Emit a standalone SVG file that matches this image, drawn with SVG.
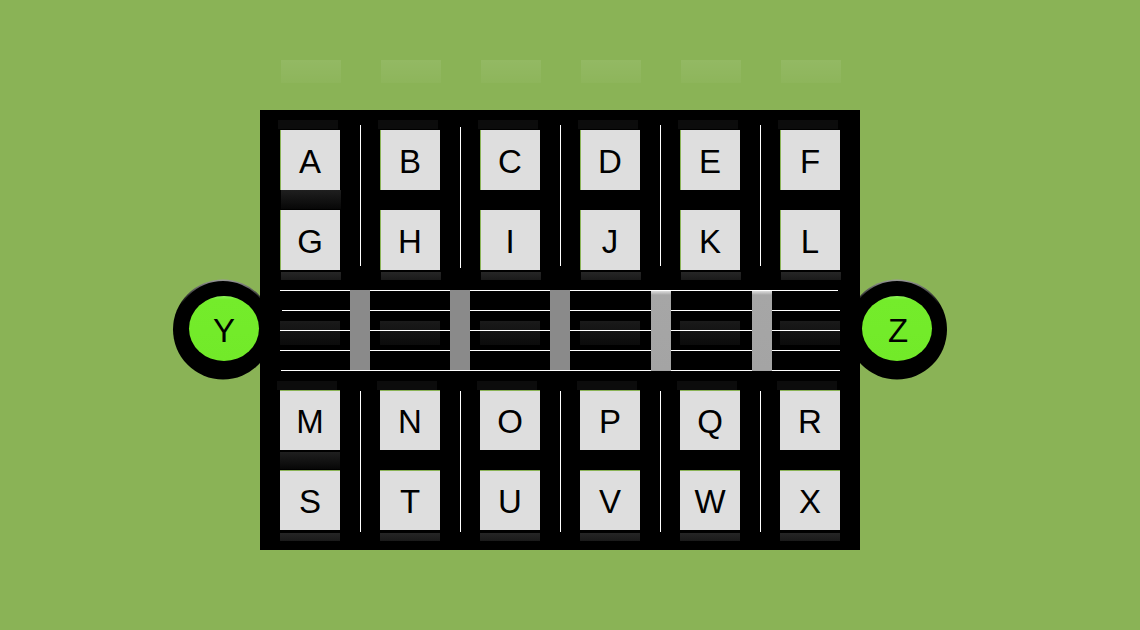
<svg xmlns="http://www.w3.org/2000/svg" width="1140" height="630" viewBox="0 0 1140 630">
<defs>
<linearGradient id="ghostTop" x1="0" y1="0" x2="0" y2="1"><stop offset="0" stop-color="#ffffff" stop-opacity="0.08"/><stop offset="1" stop-color="#ffffff" stop-opacity="0.03"/></linearGradient>
<linearGradient id="shadowBar" x1="0" y1="0" x2="0" y2="1"><stop offset="0" stop-color="#1f1f1f"/><stop offset="1" stop-color="#070707"/></linearGradient>
<linearGradient id="midGhost" x1="0" y1="0" x2="0" y2="1"><stop offset="0" stop-color="#1a1a1a"/><stop offset="1" stop-color="#0b0b0b"/></linearGradient>
<linearGradient id="lowBar" x1="0" y1="0" x2="0" y2="1"><stop offset="0" stop-color="#262626"/><stop offset="1" stop-color="#1a1a1a"/></linearGradient>
<linearGradient id="ring" x1="0" y1="0" x2="0" y2="1"><stop offset="0" stop-color="#9a9a9a"/><stop offset="0.25" stop-color="#000000"/><stop offset="1" stop-color="#000000"/></linearGradient>
<linearGradient id="hiBar" x1="0" y1="0" x2="0" y2="1"><stop offset="0" stop-color="#dcdcdc"/><stop offset="0.05" stop-color="#a6a6a6"/><stop offset="1" stop-color="#a4a4a4"/></linearGradient>
<linearGradient id="knob" x1="0" y1="0" x2="0" y2="1"><stop offset="0" stop-color="#8ef55a"/><stop offset="0.06" stop-color="#74ec2b"/><stop offset="1" stop-color="#72ea29"/></linearGradient>
</defs>
<style>
.key{fill:#dedede}
.edge{fill:#8ab356}
.lbl{font-family:"Liberation Sans",Arial,sans-serif;font-size:33px;fill:#000;text-anchor:middle}
.rail{fill:#ffffff}
.bar{fill:#8a8a8a}
.top9{fill:#0c0c0c}
</style>
<rect x="0" y="0" width="1140" height="630" fill="#8ab356"/>
<g id="ghosts-top" fill="url(#ghostTop)">
<rect x="281" y="60" width="60" height="23"/><rect x="381" y="60" width="60" height="23"/><rect x="481" y="60" width="60" height="23"/><rect x="581" y="60" width="60" height="23"/><rect x="681" y="60" width="60" height="23"/><rect x="781" y="60" width="60" height="23"/>
</g>
<g id="Y">
<circle cx="223" cy="329.5" r="50" fill="url(#ring)"/>
<circle cx="223" cy="329.5" r="48.5" fill="#000"/>
<ellipse cx="224" cy="328.5" rx="35" ry="32.5" fill="url(#knob)"/>
<text class="lbl" x="224" y="341.5">Y</text>
</g>
<g id="Z">
<circle cx="897" cy="329.5" r="50" fill="url(#ring)"/>
<circle cx="897" cy="329.5" r="48.5" fill="#000"/>
<ellipse cx="897" cy="328.5" rx="35" ry="32.5" fill="url(#knob)"/>
<text class="lbl" x="898" y="341.5">Z</text>
</g>
<rect id="panel" x="260" y="110" width="600" height="440" fill="#000"/>
<g id="shading">
<g class="top9"><rect x="278" y="120" width="60" height="9"/><rect x="378" y="120" width="60" height="9"/><rect x="478" y="120" width="60" height="9"/><rect x="578" y="120" width="60" height="9"/><rect x="678" y="120" width="60" height="9"/><rect x="778" y="120" width="60" height="9"/></g>
<rect x="281" y="190" width="60" height="19" fill="url(#shadowBar)"/>
<g fill="url(#lowBar)"><rect x="281" y="272" width="60" height="8"/><rect x="381" y="272" width="60" height="8"/><rect x="481" y="272" width="60" height="8"/><rect x="581" y="272" width="60" height="8"/><rect x="681" y="272" width="60" height="8"/><rect x="781" y="272" width="60" height="8"/></g>
<g fill="url(#midGhost)"><rect x="280" y="321" width="60" height="24"/><rect x="380" y="321" width="60" height="24"/><rect x="480" y="321" width="60" height="24"/><rect x="580" y="321" width="60" height="24"/><rect x="680" y="321" width="60" height="24"/><rect x="780" y="321" width="60" height="24"/></g>
<g class="top9"><rect x="277" y="381" width="60" height="9"/><rect x="377" y="381" width="60" height="9"/><rect x="477" y="381" width="60" height="9"/><rect x="577" y="381" width="60" height="9"/><rect x="677" y="381" width="60" height="9"/><rect x="777" y="381" width="60" height="9"/></g>
<rect x="280" y="452" width="60" height="17" fill="url(#shadowBar)"/>
<g fill="url(#lowBar)"><rect x="280" y="533" width="60" height="8"/><rect x="380" y="533" width="60" height="8"/><rect x="480" y="533" width="60" height="8"/><rect x="580" y="533" width="60" height="8"/><rect x="680" y="533" width="60" height="8"/><rect x="780" y="533" width="60" height="8"/></g>
</g>
<g id="connectors">
<g class="rail">
<rect x="360" y="125" width="1" height="141"/><rect x="460" y="127" width="1" height="141"/><rect x="560" y="125" width="1" height="141"/><rect x="660" y="125" width="1" height="141"/><rect x="760" y="125" width="1" height="141"/>
<rect x="360" y="391" width="1" height="141"/><rect x="460" y="391" width="1" height="141"/><rect x="560" y="391" width="1" height="141"/><rect x="660" y="391" width="1" height="141"/><rect x="760" y="391" width="1" height="141"/>
<rect x="280" y="290" width="558" height="1"/><rect x="282" y="310" width="558" height="1"/><rect x="280" y="330" width="560" height="1"/><rect x="280" y="350" width="560" height="1"/><rect x="281" y="370" width="559" height="1"/>
</g>
<rect class="bar" x="350" y="290" width="20" height="80"/>
<rect class="bar" x="450" y="290" width="20" height="80"/>
<rect class="bar" x="550" y="290" width="20" height="80"/>
<rect x="651" y="291" width="20" height="80" fill="url(#hiBar)"/>
<rect x="752" y="291" width="20" height="80" fill="url(#hiBar)"/>
</g>
<g id="A"><rect class="key" x="280" y="130" width="60" height="60"/><rect class="edge" x="280" y="130" width="1" height="60"/><text class="lbl" x="310" y="172.5">A</text></g>
<g id="B"><rect class="key" x="380" y="130" width="60" height="60"/><rect class="edge" x="380" y="130" width="1" height="60"/><text class="lbl" x="410" y="172.5">B</text></g>
<g id="C"><rect class="key" x="480" y="130" width="60" height="60"/><rect class="edge" x="480" y="130" width="1" height="60"/><text class="lbl" x="510" y="172.5">C</text></g>
<g id="D"><rect class="key" x="580" y="130" width="60" height="60"/><rect class="edge" x="580" y="130" width="1" height="60"/><text class="lbl" x="610" y="172.5">D</text></g>
<g id="E"><rect class="key" x="680" y="130" width="60" height="60"/><rect class="edge" x="680" y="130" width="1" height="60"/><text class="lbl" x="710" y="172.5">E</text></g>
<g id="F"><rect class="key" x="780" y="130" width="60" height="60"/><rect class="edge" x="780" y="130" width="1" height="60"/><text class="lbl" x="810" y="172.5">F</text></g>
<g id="G"><rect class="key" x="280" y="210" width="60" height="60"/><rect class="edge" x="280" y="210" width="1" height="60"/><text class="lbl" x="310" y="252.5">G</text></g>
<g id="H"><rect class="key" x="380" y="210" width="60" height="60"/><rect class="edge" x="380" y="210" width="1" height="60"/><text class="lbl" x="410" y="252.5">H</text></g>
<g id="I"><rect class="key" x="480" y="210" width="60" height="60"/><rect class="edge" x="480" y="210" width="1" height="60"/><text class="lbl" x="510" y="252.5">I</text></g>
<g id="J"><rect class="key" x="580" y="210" width="60" height="60"/><rect class="edge" x="580" y="210" width="1" height="60"/><text class="lbl" x="610" y="252.5">J</text></g>
<g id="K"><rect class="key" x="680" y="210" width="60" height="60"/><rect class="edge" x="680" y="210" width="1" height="60"/><text class="lbl" x="710" y="252.5">K</text></g>
<g id="L"><rect class="key" x="780" y="210" width="60" height="60"/><rect class="edge" x="780" y="210" width="1" height="60"/><text class="lbl" x="810" y="252.5">L</text></g>
<g id="M"><rect class="key" x="280" y="390" width="60" height="60"/><rect class="edge" x="280" y="390" width="60" height="1"/><text class="lbl" x="310" y="432.5">M</text></g>
<g id="N"><rect class="key" x="380" y="390" width="60" height="60"/><rect class="edge" x="380" y="390" width="60" height="1"/><text class="lbl" x="410" y="432.5">N</text></g>
<g id="O"><rect class="key" x="480" y="390" width="60" height="60"/><rect class="edge" x="480" y="390" width="60" height="1"/><text class="lbl" x="510" y="432.5">O</text></g>
<g id="P"><rect class="key" x="580" y="390" width="60" height="60"/><rect class="edge" x="580" y="390" width="60" height="1"/><text class="lbl" x="610" y="432.5">P</text></g>
<g id="Q"><rect class="key" x="680" y="390" width="60" height="60"/><rect class="edge" x="680" y="390" width="60" height="1"/><text class="lbl" x="710" y="432.5">Q</text></g>
<g id="R"><rect class="key" x="780" y="390" width="60" height="60"/><rect class="edge" x="780" y="390" width="60" height="1"/><text class="lbl" x="810" y="432.5">R</text></g>
<g id="S"><rect class="key" x="280" y="470" width="60" height="60"/><rect class="edge" x="280" y="470" width="60" height="1"/><text class="lbl" x="310" y="512.5">S</text></g>
<g id="T"><rect class="key" x="380" y="470" width="60" height="60"/><rect class="edge" x="380" y="470" width="60" height="1"/><text class="lbl" x="410" y="512.5">T</text></g>
<g id="U"><rect class="key" x="480" y="470" width="60" height="60"/><rect class="edge" x="480" y="470" width="60" height="1"/><text class="lbl" x="510" y="512.5">U</text></g>
<g id="V"><rect class="key" x="580" y="470" width="60" height="60"/><rect class="edge" x="580" y="470" width="60" height="1"/><text class="lbl" x="610" y="512.5">V</text></g>
<g id="W"><rect class="key" x="680" y="470" width="60" height="60"/><rect class="edge" x="680" y="470" width="60" height="1"/><text class="lbl" x="710" y="512.5">W</text></g>
<g id="X"><rect class="key" x="780" y="470" width="60" height="60"/><rect class="edge" x="780" y="470" width="60" height="1"/><text class="lbl" x="810" y="512.5">X</text></g>
</svg>
